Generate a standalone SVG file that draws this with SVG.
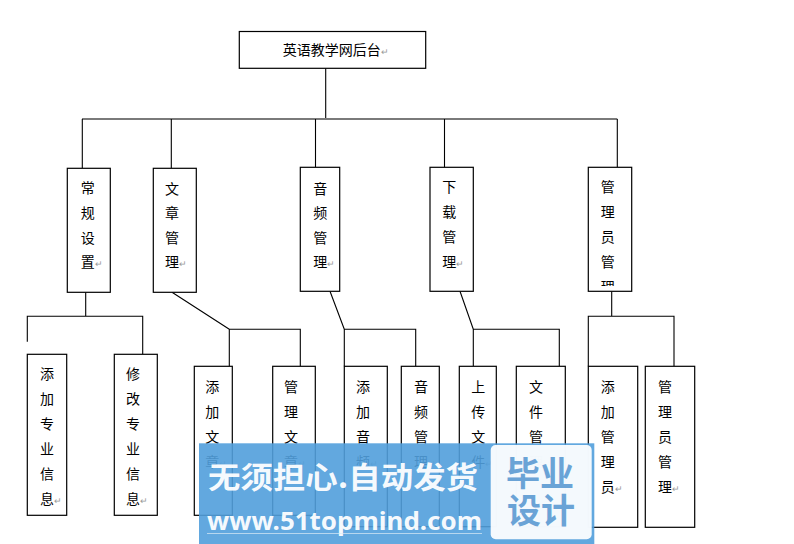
<svg xmlns="http://www.w3.org/2000/svg" width="794" height="544" viewBox="0 0 794 544">
<style>
.box{fill:#fff;stroke:#000;stroke-width:1.2}
.t{font-family:"Noto Sans CJK SC","Noto Sans",sans-serif;font-size:14px;fill:#000}
.r{font-size:9px;fill:#999}
.ln{fill:none;stroke:#000;stroke-width:1.1}
.bus{fill:none;stroke:#7a7a7a;stroke-width:2}
</style>
<defs>
<clipPath id="clipAdm"><rect x="588" y="167" width="44" height="119"/></clipPath>
</defs>
<rect width="794" height="544" fill="#fff"/>

<g id="connectors">
<path class="ln" d="M325.7 68.3V119"/>
<path class="bus" d="M82 119H617.3"/>
<path class="ln" d="M82.3 119V168.3M171.3 119V168.3M315.5 119V167.3M444.5 119V167.3M617.3 119V167.3"/>
<path class="ln" d="M85.7 292.3V316.3M27.3 341.7V316.3H142.7V354.3"/>
<path class="ln" d="M172 292.3L229.3 329.3M229.3 366.3V329.3H300.3V366.3"/>
<path class="ln" d="M330 291.3L344.3 329.3M344.3 366.3V329.3H415.7V366.3"/>
<path class="ln" d="M460 291.3L473.3 329.3M473.3 366.3V329.3H559.3V366.3"/>
<path class="ln" d="M611.7 291.3V316.3M588.3 366.3V316.3H674V366.3"/>
</g>

<g id="root">
<rect class="box" x="239.3" y="31.5" width="186.4" height="36.8"/>
<text class="t" x="282.7" y="55.3">英语教学网后台<tspan class="r">↵</tspan></text>
</g>

<g id="n-changgui">
<rect class="box" x="67.3" y="168.3" width="43" height="124"/>
<text class="t"><tspan x="80.7" y="193.3">常</tspan><tspan x="80.7" dy="24.6">规</tspan><tspan x="80.7" dy="24.6">设</tspan><tspan x="80.7" dy="24.6">置<tspan class="r">↵</tspan></tspan></text>
</g>
<g id="n-wenzhang">
<rect class="box" x="153.3" y="168.3" width="43" height="124"/>
<text class="t"><tspan x="165" y="193.6">文</tspan><tspan x="165" dy="24.6">章</tspan><tspan x="165" dy="24.6">管</tspan><tspan x="165" dy="24.6">理<tspan class="r">↵</tspan></tspan></text>
</g>
<g id="n-yinpin">
<rect class="box" x="300.3" y="167.3" width="39.4" height="124"/>
<text class="t"><tspan x="313.3" y="193.6">音</tspan><tspan x="313.3" dy="24.6">频</tspan><tspan x="313.3" dy="24.6">管</tspan><tspan x="313.3" dy="24.6">理<tspan class="r">↵</tspan></tspan></text>
</g>
<g id="n-xiazai">
<rect class="box" x="430" y="167.3" width="43.3" height="124"/>
<text class="t"><tspan x="442.3" y="192">下</tspan><tspan x="442.3" dy="25">载</tspan><tspan x="442.3" dy="25">管</tspan><tspan x="442.3" dy="25">理<tspan class="r">↵</tspan></tspan></text>
</g>
<g id="n-guanliyuan">
<rect class="box" x="588.3" y="167.3" width="43.4" height="124"/>
<text class="t" clip-path="url(#clipAdm)"><tspan x="600.7" y="192">管</tspan><tspan x="600.7" dy="25">理</tspan><tspan x="600.7" dy="25">员</tspan><tspan x="600.7" dy="25">管</tspan><tspan x="600.7" dy="25">理<tspan class="r">↵</tspan></tspan></text>
</g>

<g id="n-tianjiazhuanye">
<rect class="box" x="27.3" y="354.3" width="39.4" height="161"/>
<text class="t"><tspan x="40" y="378.6">添</tspan><tspan x="40" dy="25">加</tspan><tspan x="40" dy="25">专</tspan><tspan x="40" dy="25">业</tspan><tspan x="40" dy="25">信</tspan><tspan x="40" dy="25">息<tspan class="r">↵</tspan></tspan></text>
</g>
<g id="n-xiugaizhuanye">
<rect class="box" x="114.3" y="354.3" width="43" height="161"/>
<text class="t"><tspan x="126" y="378.6">修</tspan><tspan x="126" dy="25">改</tspan><tspan x="126" dy="25">专</tspan><tspan x="126" dy="25">业</tspan><tspan x="126" dy="25">信</tspan><tspan x="126" dy="25">息<tspan class="r">↵</tspan></tspan></text>
</g>
<g id="n-tianjiawenzhang">
<rect class="box" x="194.3" y="366.3" width="38" height="149"/>
<text class="t"><tspan x="205.3" y="392">添</tspan><tspan x="205.3" dy="25">加</tspan><tspan x="205.3" dy="25">文</tspan><tspan x="205.3" dy="25">章<tspan class="r">↵</tspan></tspan></text>
</g>
<g id="n-guanliwenzhang">
<rect class="box" x="272.7" y="366.3" width="42.6" height="149"/>
<text class="t"><tspan x="284" y="392">管</tspan><tspan x="284" dy="25">理</tspan><tspan x="284" dy="25">文</tspan><tspan x="284" dy="25">章<tspan class="r">↵</tspan></tspan></text>
</g>
<g id="n-tianjiayinpin">
<rect class="box" x="344.3" y="366.3" width="43" height="160.4"/>
<text class="t"><tspan x="356" y="392">添</tspan><tspan x="356" dy="25">加</tspan><tspan x="356" dy="25">音</tspan><tspan x="356" dy="25">频<tspan class="r">↵</tspan></tspan></text>
</g>
<g id="n-yinpinguanli">
<rect class="box" x="401.3" y="366.3" width="38" height="160.4"/>
<text class="t"><tspan x="414" y="392">音</tspan><tspan x="414" dy="25">频</tspan><tspan x="414" dy="25">管</tspan><tspan x="414" dy="25">理<tspan class="r">↵</tspan></tspan></text>
</g>
<g id="n-shangchuan">
<rect class="box" x="459.3" y="366.3" width="37" height="160.4"/>
<text class="t"><tspan x="471.3" y="392">上</tspan><tspan x="471.3" dy="25">传</tspan><tspan x="471.3" dy="25">文</tspan><tspan x="471.3" dy="25">件<tspan class="r">↵</tspan></tspan></text>
</g>
<g id="n-wenjianguanli">
<rect class="box" x="516.3" y="366.3" width="49" height="160.4"/>
<text class="t"><tspan x="529" y="392">文</tspan><tspan x="529" dy="25">件</tspan><tspan x="529" dy="25">管</tspan><tspan x="529" dy="25">理<tspan class="r">↵</tspan></tspan></text>
</g>
<g id="n-tianjiaguanliyuan">
<rect class="box" x="588.3" y="366.3" width="49.4" height="161"/>
<text class="t"><tspan x="600.7" y="392">添</tspan><tspan x="600.7" dy="25">加</tspan><tspan x="600.7" dy="25">管</tspan><tspan x="600.7" dy="25">理</tspan><tspan x="600.7" dy="25">员<tspan class="r">↵</tspan></tspan></text>
</g>
<g id="n-guanliyuanguanli">
<rect class="box" x="645.3" y="366.3" width="49.4" height="161"/>
<text class="t"><tspan x="658" y="392">管</tspan><tspan x="658" dy="25">理</tspan><tspan x="658" dy="25">员</tspan><tspan x="658" dy="25">管</tspan><tspan x="658" dy="25">理<tspan class="r">↵</tspan></tspan></text>
</g>

<g id="watermark">
<rect x="199" y="443.3" width="395.3" height="100.7" fill="#519fdc" fill-opacity="0.9"/>
<rect x="490.7" y="445" width="101" height="94.3" rx="5" fill="#fff" fill-opacity="0.93"/>
<text x="208" y="488" font-family="'Noto Sans CJK SC',sans-serif" font-size="30" font-weight="bold" fill="#fff" fill-opacity="0.95" textLength="270" lengthAdjust="spacingAndGlyphs">无须担心.自动发货</text>
<text x="207" y="530" font-family="'Noto Sans','Open Sans',sans-serif" font-size="25" font-weight="bold" fill="#fff" fill-opacity="0.95" textLength="275" lengthAdjust="spacingAndGlyphs">www.51topmind.com</text>
<path d="M207 533.5H482" stroke="#dcebf7" stroke-width="1" opacity="0.7"/>
<text font-family="'Noto Sans CJK SC',sans-serif" font-size="34" font-weight="bold" fill="#6aa3d6"><tspan x="506" y="486">毕业</tspan><tspan x="507" y="523">设计</tspan></text>
</g>
</svg>
